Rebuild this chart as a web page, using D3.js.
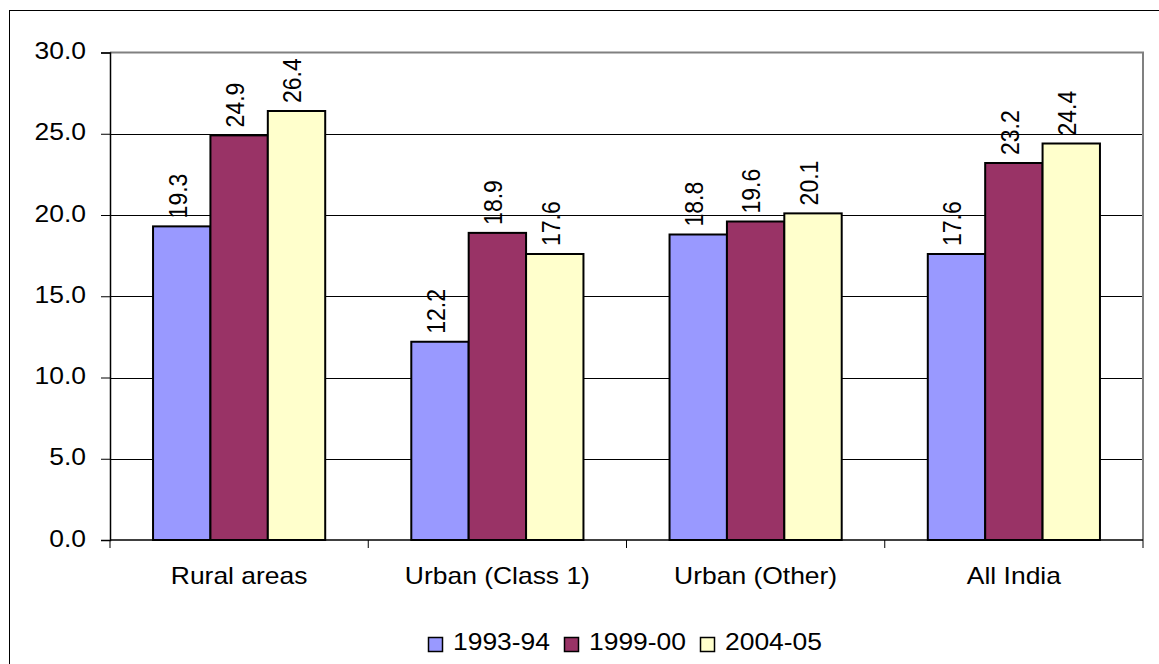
<!DOCTYPE html>
<html>
<head>
<meta charset="utf-8">
<script src="https://cdn.jsdelivr.net/npm/d3@7"></script>
<style>
  html, body { margin: 0; padding: 0; background: #fff; }
  svg { display: block; }
  text { font-family: "Liberation Sans", Arial, sans-serif; fill: #000; }
</style>
</head>
<body>
<svg id="chart" width="1159" height="664"></svg>
<script>
// Categories, series and values
const categories = ["Rural areas", "Urban (Class 1)", "Urban (Other)", "All India"];
const seriesNames = ["1993-94", "1999-00", "2004-05"];
const values1993 = [19.3, 12.2, 18.8, 17.6];
const values1999 = [24.9, 18.9, 19.6, 23.2];
const values2004 = [26.4, 17.6, 20.1, 24.4];
const seriesColors = ["#9999FF", "#993366", "#FFFFCC"];
const yTicks = [0, 5, 10, 15, 20, 25, 30];

const seriesValues = [values1993, values1999, values2004];
const rows = categories.map((c, i) => ({
  category: c,
  values: seriesNames.map((s, j) => ({ series: s, value: seriesValues[j][i], idx: j }))
}));

const svg = d3.select("#chart");
const SX = 1.15;      // horizontal glyph stretch
const FS = 23;        // font size

// Outer frame
svg.append("rect")
  .attr("x", 9.5).attr("y", 10.5)
  .attr("width", 1160).attr("height", 660)
  .attr("fill", "none").attr("stroke", "#000").attr("stroke-width", 1);

const plot = { left: 110, right: 1143, top: 52.5, bottom: 540 };

const x0 = d3.scaleBand().domain(categories).range([plot.left, plot.right]).paddingInner(0).paddingOuter(0);
// three bars occupy 3 / 4.5 of each category slot
const groupWidth = x0.bandwidth() * 3 / 4.5;
const x1 = d3.scaleBand().domain(seriesNames).range([0, groupWidth]).padding(0);
const y = d3.scaleLinear().domain([0, 30]).range([plot.bottom, plot.top]);

// Gridlines
svg.append("g").selectAll("line")
  .data(yTicks.filter(t => t > 0 && t < 30))
  .join("line")
  .attr("x1", plot.left).attr("x2", plot.right)
  .attr("y1", d => Math.round(y(d)) + 0.5).attr("y2", d => Math.round(y(d)) + 0.5)
  .attr("stroke", "#000").attr("stroke-width", 1);

// Plot area frame (top and right in grey)
svg.append("path")
  .attr("d", `M${plot.left},${plot.top}H${plot.right}V${plot.bottom}`)
  .attr("fill", "none").attr("stroke", "#808080").attr("stroke-width", 2);

// Bars
const groups = svg.append("g").selectAll("g")
  .data(rows)
  .join("g")
  .attr("transform", d => `translate(${x0(d.category) + (x0.bandwidth() - groupWidth) / 2},0)`);

groups.selectAll("rect")
  .data(d => d.values)
  .join("rect")
  .attr("x", d => x1(d.series))
  .attr("y", d => y(d.value))
  .attr("width", x1.bandwidth())
  .attr("height", d => y(0) - y(d.value))
  .attr("fill", d => seriesColors[d.idx])
  .attr("stroke", "#000").attr("stroke-width", 2);

// Value labels (rotated)
groups.selectAll("g.lbl")
  .data(d => d.values)
  .join("g")
  .attr("class", "lbl")
  .attr("transform", d => `translate(${x1(d.series) + x1.bandwidth() / 2},${y(d.value) - 8}) scale(${SX},1) rotate(-90)`)
  .append("text")
  .attr("font-size", FS)
  .attr("dy", "0.18em")
  .attr("text-anchor", "start")
  .text(d => d.value.toFixed(1));

// Y axis
const yAxis = d3.axisLeft(y).tickValues(yTicks).tickSize(9).tickFormat(d3.format(".1f"));
const yg = svg.append("g").attr("transform", `translate(${plot.left},0)`).call(yAxis);
yg.select(".domain").attr("stroke", "#000").attr("stroke-width", 1.5);
yg.selectAll(".tick line").attr("stroke", "#000");
yg.selectAll(".tick text").remove();
yg.selectAll(".tick").append("g")
  .attr("transform", `translate(-24,6) scale(${SX},1)`)
  .append("text")
  .attr("font-size", FS).attr("text-anchor", "end")
  .text(d => d3.format(".1f")(d));

// X axis baseline and category ticks
const xTickPos = categories.map(c => x0(c)).concat([plot.right]);
svg.append("line")
  .attr("x1", plot.left).attr("x2", plot.right)
  .attr("y1", plot.bottom).attr("y2", plot.bottom)
  .attr("stroke", "#000").attr("stroke-width", 1.5);
svg.append("g").selectAll("line")
  .data(xTickPos)
  .join("line")
  .attr("x1", d => d).attr("x2", d => d)
  .attr("y1", plot.bottom).attr("y2", plot.bottom + 8)
  .attr("stroke", "#000").attr("stroke-width", 1);

svg.append("g").selectAll("g")
  .data(categories)
  .join("g")
  .attr("transform", d => `translate(${x0(d) + x0.bandwidth() / 2},584) scale(${SX},1)`)
  .append("text")
  .attr("font-size", FS).attr("text-anchor", "middle")
  .text(d => d);

// Legend
const legendX = [428, 564, 700];
const legend = svg.append("g").selectAll("g")
  .data(seriesNames)
  .join("g")
  .attr("transform", (d, i) => `translate(${legendX[i]},0)`);
legend.append("rect")
  .attr("x", 0.5).attr("y", 637.5)
  .attr("width", 14).attr("height", 14)
  .attr("fill", (d, i) => seriesColors[i])
  .attr("stroke", "#000").attr("stroke-width", 1.5);
legend.append("g")
  .attr("transform", `translate(25,650) scale(${SX},1)`)
  .append("text")
  .attr("font-size", FS)
  .text(d => d);
</script>
</body>
</html>
